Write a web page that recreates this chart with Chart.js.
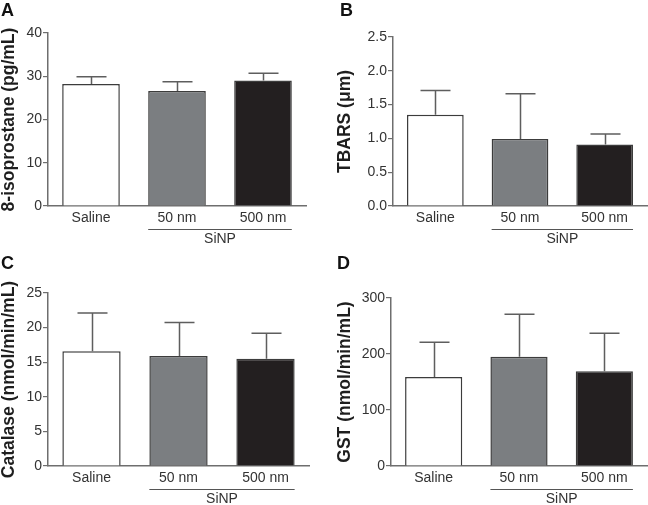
<!DOCTYPE html>
<html>
<head>
<meta charset="utf-8">
<script src="https://cdn.jsdelivr.net/npm/chart.js@4.4.1/dist/chart.umd.min.js"></script>
<style>
  html, body { margin: 0; padding: 0; background: #fff; }
  #wrap { position: relative; width: 648px; height: 505px; overflow: hidden; font-family: 'Liberation Sans', Arial, sans-serif; }
  .panel { position: absolute; }
  .letter { position: absolute; font-weight: bold; font-size: 18px; color: #111; line-height: 1; }
</style>
</head>
<body>
<div id="wrap">
  <div class="panel" style="left:0;top:0;width:324px;height:250px"><canvas id="cA"></canvas></div>
  <div class="panel" style="left:324px;top:0;width:324px;height:250px"><canvas id="cB"></canvas></div>
  <div class="panel" style="left:0;top:250px;width:324px;height:255px"><canvas id="cC"></canvas></div>
  <div class="panel" style="left:324px;top:250px;width:324px;height:255px"><canvas id="cD"></canvas></div>
  <div class="letter" style="left:1px;top:1px">A</div>
  <div class="letter" style="left:340px;top:1px">B</div>
  <div class="letter" style="left:1px;top:254px">C</div>
  <div class="letter" style="left:337px;top:254px">D</div>
</div>
<script>
// categories
const groups = ['Saline', '50 nm', '500 nm'];
const groupLabel = 'SiNP';

// A: 8-isoprostane
const isoMean = [28.2, 26.6, 29.0];
const isoErr  = [1.7, 2.1, 1.7];
// B: TBARS
const tbarsMean = [1.35, 0.99, 0.91];
const tbarsErr  = [0.36, 0.67, 0.155];
// C: Catalase
const catMean = [16.6, 15.9, 15.5];
const catErr  = [5.5, 4.85, 3.7];
// D: GST
const gstMean = [159, 195, 169];
const gstErr  = [62, 76, 68];

const fills   = ['#ffffff', '#7b7e81', '#231f20'];
const FONT = "'Liberation Sans', Arial, sans-serif";
const AXIS = '#6e6e6e';
const TXT = '#333333';

const errorBars = {
  id: 'errorBars',
  afterDatasetsDraw(chart) {
    const { ctx } = chart;
    const meta = chart.getDatasetMeta(0);
    const ys = chart.scales.y;
    const errs = chart.options.plugins.errorBars.errs;
    const means = chart.data.datasets[0].data;
    ctx.save();
    ctx.strokeStyle = '#5e5e5e';
    ctx.lineWidth = 1.5;
    meta.data.forEach((bar, i) => {
      const x = Math.round(bar.x) + 0.5;
      const yTop = ys.getPixelForValue(means[i] + errs[i]);
      ctx.beginPath();
      ctx.moveTo(x, bar.y);
      ctx.lineTo(x, yTop);
      ctx.moveTo(x - 15, yTop);
      ctx.lineTo(x + 15, yTop);
      ctx.stroke();
    });
    ctx.restore();
  }
};

const groupBracket = {
  id: 'groupBracket',
  afterDraw(chart) {
    const { ctx, chartArea } = chart;
    const meta = chart.getDatasetMeta(0);
    const b1 = meta.data[1], b2 = meta.data[2];
    const x0 = b1.x - b1.width / 2;
    const x1 = b2.x + b2.width / 2;
    const y = Math.round(chartArea.bottom + 23) + 0.5;
    ctx.save();
    ctx.strokeStyle = '#555';
    ctx.lineWidth = 1;
    ctx.beginPath();
    ctx.moveTo(x0, y);
    ctx.lineTo(x1, y);
    ctx.stroke();
    ctx.fillStyle = TXT;
    ctx.font = '14px ' + FONT;
    ctx.textAlign = 'center';
    ctx.textBaseline = 'middle';
    ctx.fillText(groupLabel, (x0 + x1) / 2, y + 10);
    ctx.restore();
  }
};

function makePanel(id, cfg) {
  const cv = document.getElementById(id);
  const W = cfg.w, H = cfg.h;
  const a = cfg.area;
  return new Chart(cv, {
    type: 'bar',
    data: {
      labels: groups,
      datasets: [{
        data: cfg.means,
        backgroundColor: fills,
        borderColor: '#3c3c3c',
        borderWidth: 1.5,
        borderSkipped: 'bottom',
        categoryPercentage: 1,
        barPercentage: 0.67,
      }],
    },
    options: {
      responsive: true,
      maintainAspectRatio: false,
      animation: false,
      layout: { padding: { left: cfg.titleLeft, top: a.top, right: W - a.right, bottom: 0 } },
      plugins: {
        legend: { display: false },
        tooltip: { enabled: false },
        errorBars: { errs: cfg.errs },
      },
      scales: {
        x: {
          grid: { display: false, drawTicks: false, tickLength: 0 },
          border: { display: true, color: AXIS, width: 1.5 },
          ticks: { color: TXT, font: { family: FONT, size: 14 }, padding: 4, maxRotation: 0 },
          afterFit: (s) => { s.height = H - a.bottom; },
        },
        y: {
          min: 0,
          max: cfg.max,
          ticks: {
            stepSize: cfg.step,
            color: TXT,
            padding: 1,
            font: { family: FONT, size: 14 },
            callback: (v) => v.toFixed(cfg.dec),
          },
          grid: { drawOnChartArea: false, drawTicks: true, tickLength: 5, color: AXIS, lineWidth: 1.2 },
          border: { display: true, color: AXIS, width: 1.5 },
          title: {
            display: true,
            text: cfg.title,
            color: '#1e1e1e',
            font: { family: FONT, size: 17.5, weight: 'bold', lineHeight: 1.05 },
            padding: { top: 0, bottom: 0 },
          },
          afterFit: (s) => { s.width = a.left - cfg.titleLeft; },
        },
      },
    },
    plugins: [errorBars, groupBracket],
  });
}

makePanel('cA', { w: 324, h: 250, area: { left: 48, top: 33, right: 306, bottom: 206 }, titleLeft: 0,
  means: isoMean, errs: isoErr, max: 40, step: 10, dec: 0, title: '8-isoprostane (pg/mL)' });
makePanel('cB', { w: 324, h: 250, area: { left: 69, top: 37, right: 323, bottom: 206 }, titleLeft: 12,
  means: tbarsMean, errs: tbarsErr, max: 2.5, step: 0.5, dec: 1, title: 'TBARS (\u03bcm)' });
makePanel('cC', { w: 324, h: 255, area: { left: 48, top: 43, right: 309, bottom: 216 }, titleLeft: 0,
  means: catMean, errs: catErr, max: 25, step: 5, dec: 0, title: 'Catalase (nmol/min/mL)' });
makePanel('cD', { w: 324, h: 255, area: { left: 67, top: 48, right: 323, bottom: 216 }, titleLeft: 12,
  means: gstMean, errs: gstErr, max: 300, step: 100, dec: 0, title: 'GST (nmol/min/mL)' });
</script>
</body>
</html>
